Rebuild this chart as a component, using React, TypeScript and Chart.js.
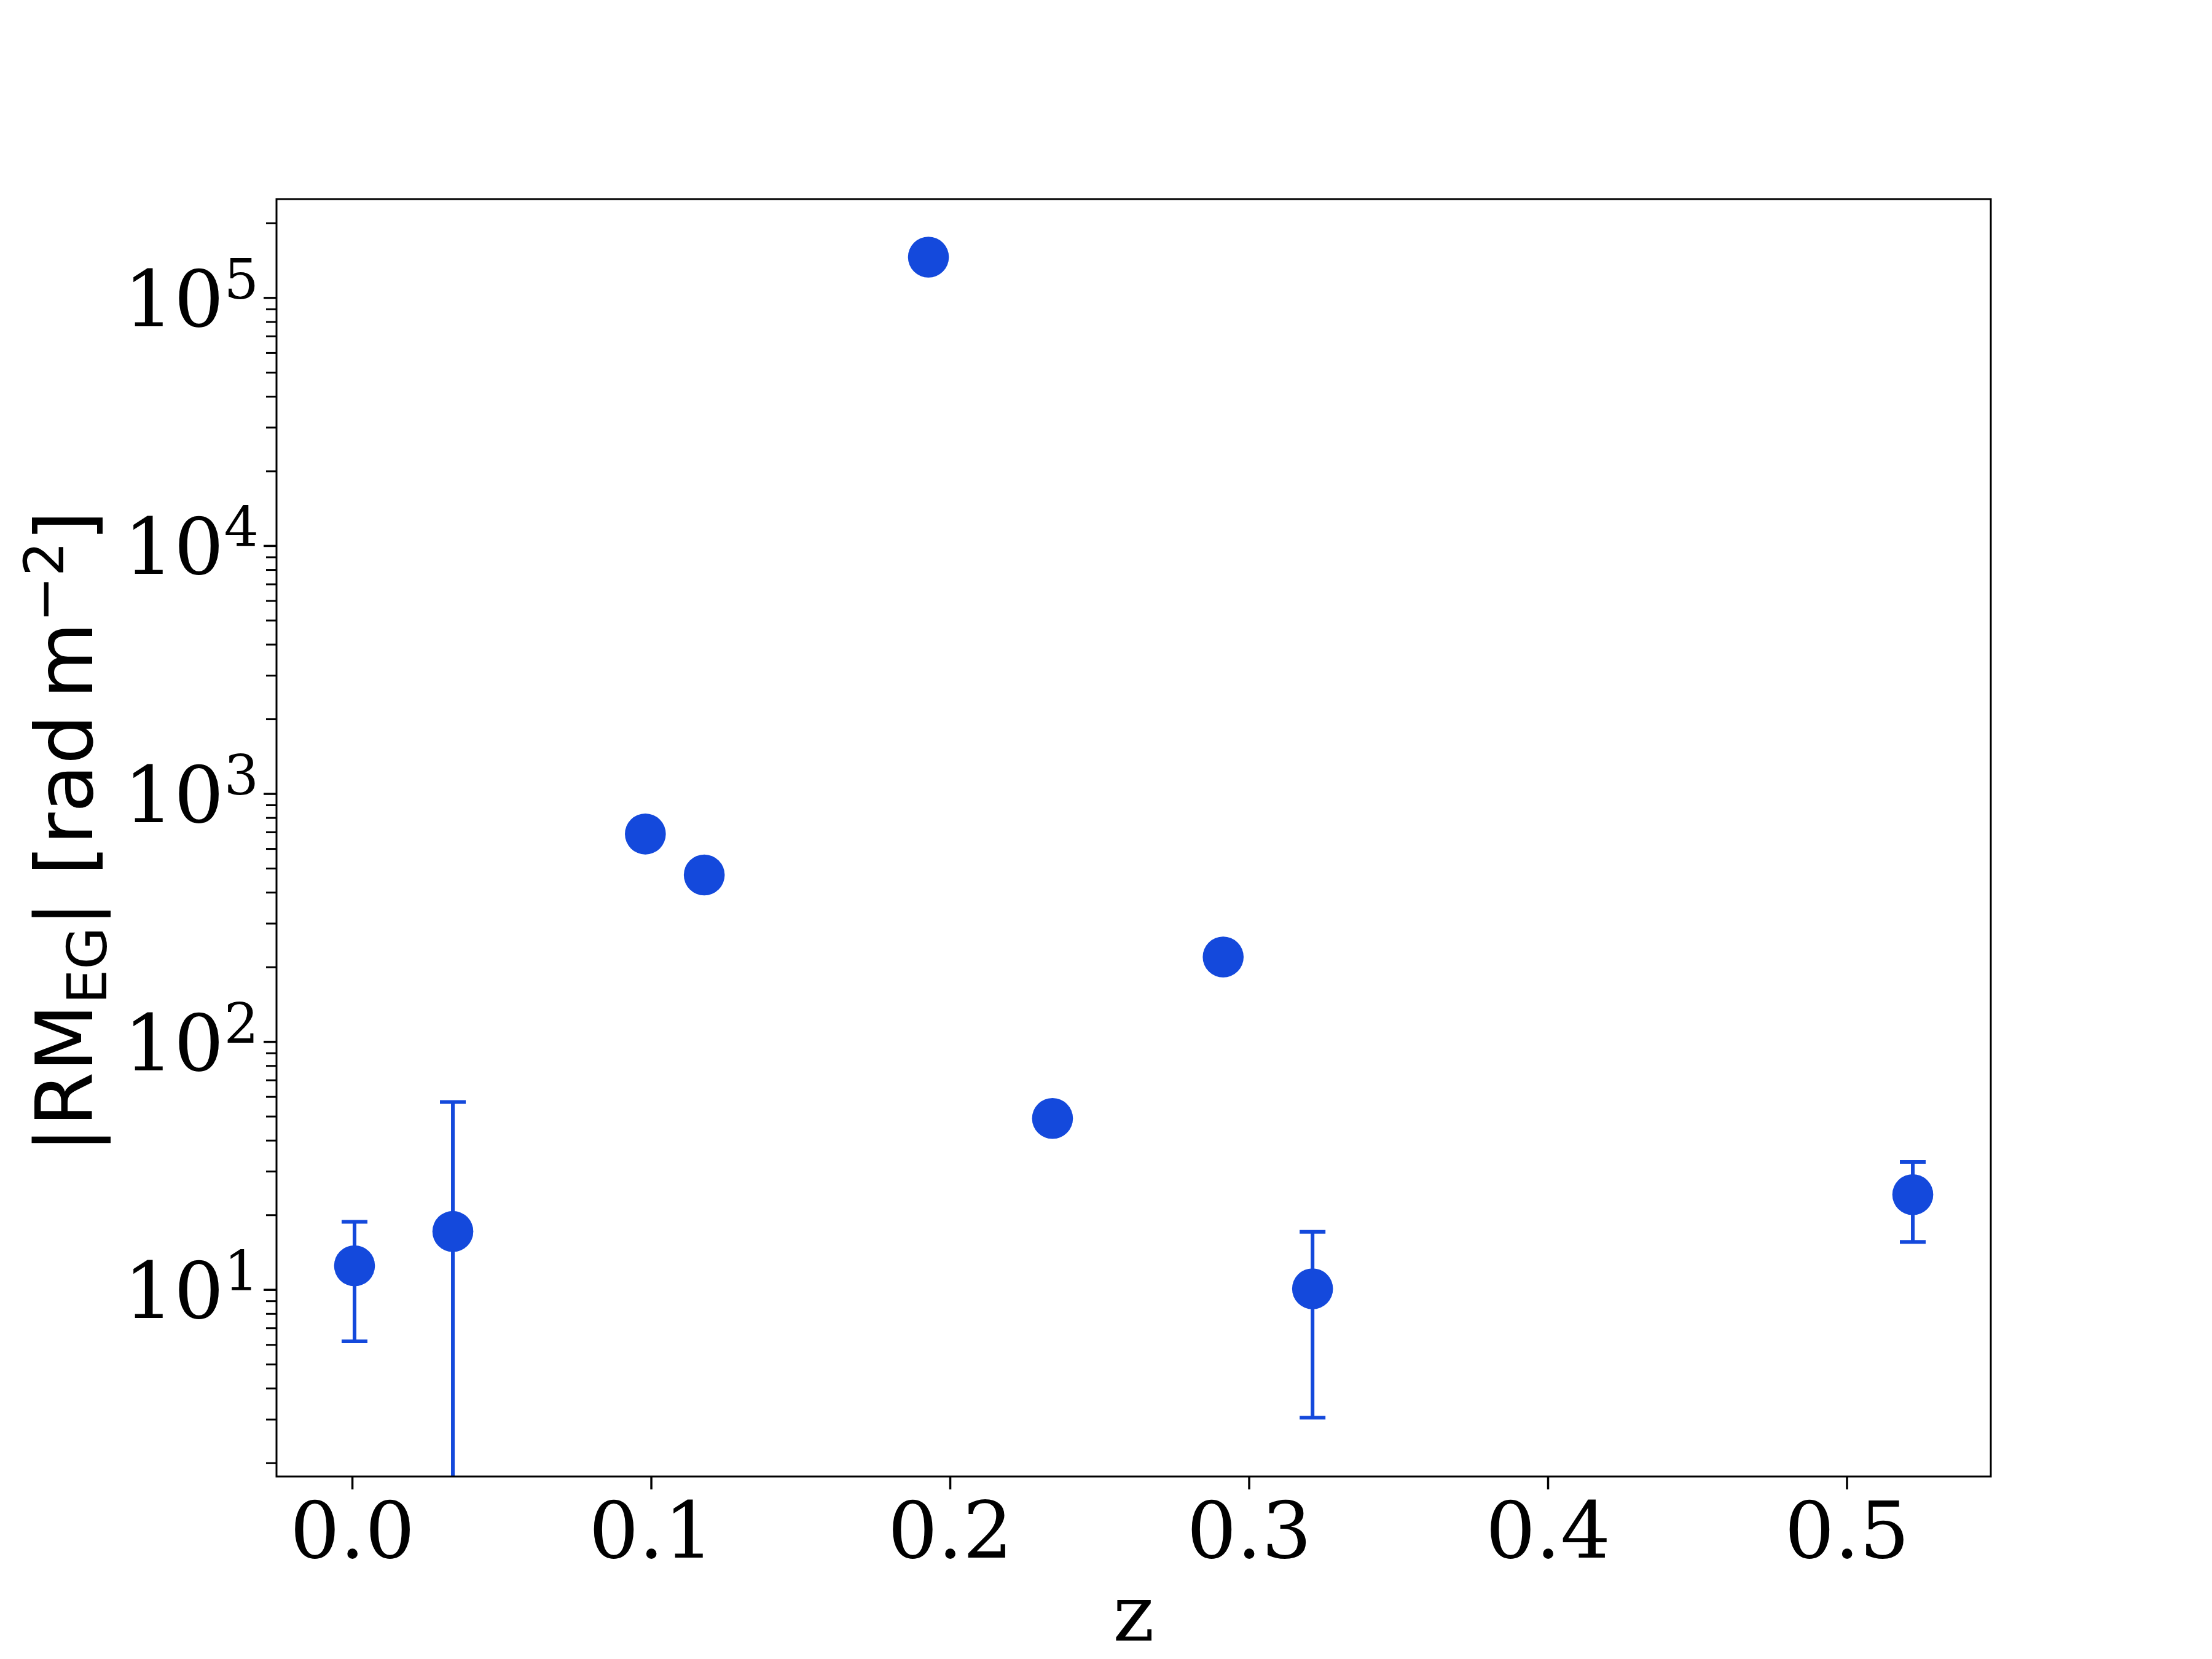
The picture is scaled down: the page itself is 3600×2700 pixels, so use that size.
import React, { useEffect, useRef } from 'react';
import { Chart, registerables } from 'chart.js';

Chart.register(...registerables);

// ---- data ----
const redshift = [0.0007, 0.0336, 0.098, 0.1177, 0.1927, 0.2342, 0.2913, 0.3212, 0.522];
const rmEG = [12.5, 17.2, 689, 471, 146000, 49.1, 220, 10.1, 24.2];
const rmErr: (number | null)[] = [6.3, 40, null, null, null, null, null, 7.05, 8.6];

const xTickValues = [0.0, 0.1, 0.2, 0.3, 0.4, 0.5];
const xTickLabels = ['0.0', '0.1', '0.2', '0.3', '0.4', '0.5'];
const yDecadeExponents = [1, 2, 3, 4, 5];
const yMinorMultipliers = [2, 3, 4, 5, 6, 7, 8, 9];

const X_MIN = -0.0254;
const X_MAX = 0.5481;
const Y_MIN = 1.767;
const Y_MAX = 250400;

const BLUE = '#1449DC';
const SERIF = '"DejaVu Serif"';
const SANS = '"DejaVu Sans"';

const decorPlugin = {
  id: 'decor',
  beforeDatasetsDraw(chart: any) {
    const ctx = chart.ctx;
    const xs = chart.scales.x;
    const ys = chart.scales.y;
    const ca = chart.chartArea;
    ctx.save();
    ctx.beginPath();
    ctx.rect(ca.left, ca.top, ca.right - ca.left, ca.bottom - ca.top);
    ctx.clip();
    ctx.strokeStyle = BLUE;
    ctx.lineWidth = 6;
    ctx.lineCap = 'butt';
    for (let i = 0; i < redshift.length; i++) {
      const e = rmErr[i];
      if (e == null) continue;
      const px = xs.getPixelForValue(redshift[i]);
      const hi = rmEG[i] + e;
      const lo = rmEG[i] - e;
      const pyHi = ys.getPixelForValue(hi);
      const pyLo = lo > 0 ? ys.getPixelForValue(lo) : ca.bottom + 50;
      ctx.beginPath();
      ctx.moveTo(px, pyHi);
      ctx.lineTo(px, pyLo);
      ctx.stroke();
      ctx.beginPath();
      ctx.moveTo(px - 21, pyHi);
      ctx.lineTo(px + 21, pyHi);
      if (lo > 0) {
        ctx.moveTo(px - 21, pyLo);
        ctx.lineTo(px + 21, pyLo);
      }
      ctx.stroke();
    }
    ctx.restore();
  },
  afterDraw(chart: any) {
    const ctx = chart.ctx;
    const xs = chart.scales.x;
    const ys = chart.scales.y;
    const ca = chart.chartArea;
    ctx.save();
    // frame
    ctx.strokeStyle = '#000';
    ctx.lineWidth = 3;
    ctx.strokeRect(ca.left, ca.top, ca.right - ca.left, ca.bottom - ca.top);

    // x ticks
    ctx.lineWidth = 3.5;
    ctx.fillStyle = '#000';
    ctx.font = `128px ${SERIF}`;
    ctx.textAlign = 'center';
    ctx.textBaseline = 'alphabetic';
    xTickValues.forEach((v, i) => {
      const px = xs.getPixelForValue(v);
      ctx.beginPath();
      ctx.moveTo(px, ca.bottom);
      ctx.lineTo(px, ca.bottom + 21);
      ctx.stroke();
      ctx.fillText(xTickLabels[i], px, ca.bottom + 132);
    });

    // y minor ticks
    ctx.lineWidth = 3;
    for (let e = 0; e <= 5; e++) {
      for (const m of yMinorMultipliers) {
        const v = m * Math.pow(10, e);
        if (v < Y_MIN || v > Y_MAX) continue;
        const py = ys.getPixelForValue(v);
        ctx.beginPath();
        ctx.moveTo(ca.left - 17, py);
        ctx.lineTo(ca.left, py);
        ctx.stroke();
      }
    }
    // y major ticks + labels
    ctx.lineWidth = 3.5;
    yDecadeExponents.forEach((e) => {
      const py = ys.getPixelForValue(Math.pow(10, e));
      ctx.beginPath();
      ctx.moveTo(ca.left - 21, py);
      ctx.lineTo(ca.left, py);
      ctx.stroke();
      const rightX = ca.left - 29;
      ctx.textAlign = 'right';
      ctx.font = `89px ${SERIF}`;
      const sup = String(e);
      const supW = ctx.measureText(sup).width;
      ctx.fillText(sup, rightX, py + 1);
      ctx.font = `128px ${SERIF}`;
      ctx.fillText('10', rightX - supW, py + 46);
    });

    // x label
    ctx.textAlign = 'center';
    ctx.font = `128px ${SERIF}`;
    ctx.fillText('z', (ca.left + ca.right) / 2, 2670);

    // y label (rotated, with sub/superscripts)
    const pieces: { t: string; size: number; dy: number }[] = [
      { t: '|RM', size: 128, dy: 0 },
      { t: 'EG', size: 89, dy: 23 },
      { t: '| [rad', size: 128, dy: 0 },
      { t: '\u2009', size: 128, dy: 0 },
      { t: 'm', size: 128, dy: 0 },
      { t: '\u22122', size: 89, dy: -47 },
      { t: ']', size: 128, dy: 0 },
    ];
    let total = 0;
    const widths = pieces.map((p) => {
      ctx.font = `${p.size}px ${SANS}`;
      const w = ctx.measureText(p.t).width;
      total += w;
      return w;
    });
    ctx.translate(150, 1354);
    ctx.rotate(-Math.PI / 2);
    ctx.textAlign = 'left';
    let cx = -total / 2;
    pieces.forEach((p, i) => {
      ctx.font = `${p.size}px ${SANS}`;
      ctx.fillText(p.t, cx, p.dy);
      cx += widths[i];
    });
    ctx.restore();
  },
};

export default function App() {
  const canvasRef = useRef<HTMLCanvasElement | null>(null);

  useEffect(() => {
    document.body.style.margin = '0';
    const canvas = canvasRef.current;
    if (!canvas) return;
    const points = redshift.map((z, i) => ({ x: z, y: rmEG[i] }));
    const chart = new Chart(canvas, {
      type: 'scatter',
      data: {
        datasets: [
          {
            data: points,
            backgroundColor: BLUE,
            borderWidth: 0,
            pointRadius: 33.3,
            pointHoverRadius: 33.3,
          },
        ],
      },
      options: {
        responsive: false,
        animation: false,
        devicePixelRatio: 1,
        layout: { padding: { left: 450, right: 360, top: 324, bottom: 297 } },
        plugins: {
          legend: { display: false },
          tooltip: { enabled: false },
        },
        events: [],
        scales: {
          x: { type: 'linear', display: false, min: X_MIN, max: X_MAX },
          y: { type: 'logarithmic', display: false, min: Y_MIN, max: Y_MAX },
        },
      },
      plugins: [decorPlugin],
    });
    return () => chart.destroy();
  }, []);

  return (
    <canvas
      ref={canvasRef}
      width={3600}
      height={2700}
      style={{ display: 'block', width: 3600, height: 2700, background: '#fff' }}
    />
  );
}
